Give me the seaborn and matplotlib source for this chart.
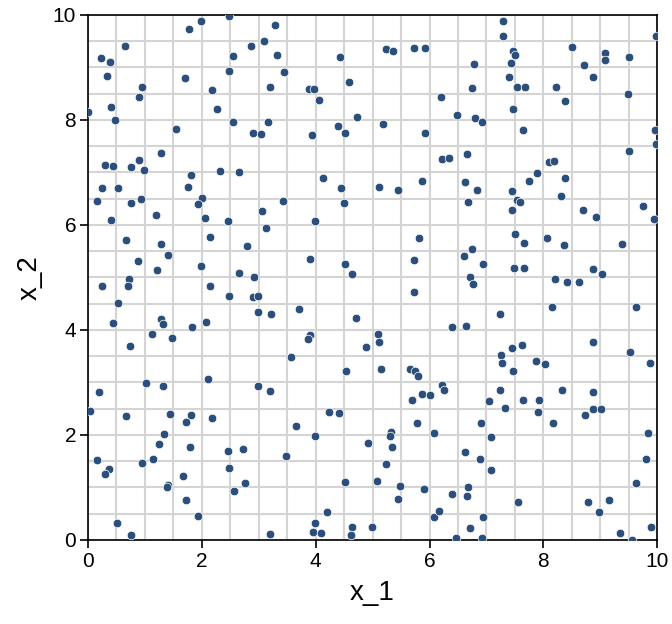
import numpy as np
import pandas as pd
import seaborn as sns
import matplotlib.pyplot as plt

# ── Data (300 points) ─────────────────────────────────────────────────────────
x1 = [0.00, 0.23, 0.38, 0.33, 0.65, 0.40, 0.48, 0.94, 0.90, 1.55, 1.77, 1.98, 2.47, 1.70, 2.18, 2.26,
      2.47, 2.55, 2.86, 3.09, 3.29, 3.32, 3.20, 2.54, 2.89, 3.04, 3.16, 1.29, 0.30, 0.43, 0.76, 0.89,
      0.99, 1.81, 2.32, 2.65, 0.25, 0.52, 1.75,
      3.45, 3.88, 3.97, 4.05, 4.43, 4.59, 4.73, 4.39, 4.51, 3.93, 5.19, 5.24, 5.36, 5.72, 5.92, 6.20,
      6.49, 5.92, 6.22, 6.34, 6.66, 6.62, 4.12, 4.44, 5.11, 5.44, 5.86,
      7.29, 7.29, 7.46, 7.50, 6.78, 7.43, 7.39, 6.74, 7.53, 7.68, 7.47, 6.79, 6.93, 7.64, 8.22, 8.38,
      8.50, 8.71, 8.87, 9.08, 9.09, 9.50, 9.49, 9.97, 9.96, 9.97, 9.50, 8.09, 8.18, 7.89, 7.75, 8.38,
      6.84, 7.44,
      0.16, 0.41, 0.76, 0.93, 1.19, 2.01, 1.93, 2.05, 2.46, 3.06, 3.13, 0.66, 1.28, 1.40, 2.15, 2.80,
      0.87, 1.21, 1.99, 2.66, 2.91, 0.25, 0.72, 0.71, 2.15, 2.48, 2.89, 2.99, 0.53, 2.99, 3.22, 0.44,
      1.29, 1.31, 1.12, 1.48, 1.83, 2.07, 0.74,
      3.43, 4.50, 3.99, 5.81, 3.90, 4.51, 4.64, 5.72, 5.73, 3.71, 4.71, 3.90, 3.86, 5.09, 5.12, 4.88,
      6.39, 3.57,
      6.67, 7.53, 7.59, 7.44, 8.31, 8.70, 8.93, 9.75, 9.94, 7.50, 7.66, 8.06, 8.36, 9.39, 6.75, 6.61,
      6.94, 7.48, 7.66, 6.71, 6.76, 8.87, 9.03, 8.21, 8.42, 8.63, 8.16, 9.62, 7.23, 6.64, 8.87, 9.53,
      7.63, 7.44, 7.26, 7.28, 7.87, 8.02, 9.88,
      2.10, 1.01, 1.31, 0.20, 2.99, 3.19, 0.03, 0.66, 1.44, 1.81, 1.72, 2.17, 1.34, 1.25, 1.80, 2.46,
      2.73, 0.16, 0.37, 0.29, 0.95, 1.15, 2.48, 1.66, 1.40, 1.38, 2.76, 2.57, 1.72, 1.93, 0.51, 0.75,
      3.19,
      4.54, 5.15, 5.66, 5.75, 5.80, 6.22, 6.26, 5.87, 6.01, 5.69, 4.23, 4.41, 3.65, 3.99, 5.78, 6.08,
      4.91, 5.32, 5.30, 5.34, 3.47, 5.23, 4.51, 5.08, 5.48, 5.45, 5.90, 6.40, 4.19, 3.98, 3.96, 4.09,
      4.64, 4.62, 4.99, 6.07, 6.17, 6.47,
      7.46, 7.23, 7.04, 7.33, 7.64, 7.93, 7.91, 8.33, 8.87, 8.87, 9.02, 8.73, 8.17, 6.91, 7.08, 6.63,
      6.88, 7.08, 9.83, 9.80, 9.62, 6.67, 6.65, 7.56, 8.78, 9.16, 8.97, 6.94, 6.71, 6.92, 9.35, 9.56,
      9.89]

x2 = [8.15, 9.18, 9.10, 8.84, 9.40, 8.25, 7.99, 8.63, 8.44, 7.82, 9.74, 9.88, 9.99, 8.80, 8.57, 8.21,
      8.93, 9.22, 9.40, 9.50, 9.80, 9.23, 8.62, 7.96, 7.76, 7.73, 7.97, 7.37, 7.14, 7.13, 7.10, 7.23,
      7.04, 6.95, 7.03, 7.00, 6.70, 6.70, 6.73,
      8.91, 8.58, 8.58, 8.38, 9.19, 8.73, 8.06, 7.88, 7.76, 7.71, 7.93, 9.35, 9.31, 9.37, 9.37, 8.44,
      8.10, 7.75, 7.26, 7.28, 7.35, 6.81, 6.90, 6.70, 6.72, 6.67, 6.84,
      9.89, 9.59, 9.32, 9.24, 9.06, 9.08, 8.82, 8.61, 8.62, 8.62, 8.20, 8.04, 7.97, 7.80, 8.63, 8.37,
      9.39, 9.05, 8.81, 9.28, 9.14, 9.20, 8.49, 9.60, 7.80, 7.54, 7.41, 7.19, 7.22, 6.98, 6.84, 6.89,
      6.67, 6.65,
      6.46, 6.10, 6.41, 6.49, 6.18, 6.51, 6.39, 6.14, 6.08, 6.27, 5.94, 5.71, 5.64, 5.42, 5.77, 5.60,
      5.31, 5.14, 5.22, 5.09, 5.01, 4.84, 4.97, 4.83, 4.83, 4.64, 4.62, 4.65, 4.51, 4.34, 4.30, 4.13,
      4.21, 4.11, 3.93, 3.85, 4.06, 4.15, 3.70,
      6.46, 6.41, 6.07, 5.75, 5.35, 5.26, 5.07, 5.33, 4.73, 4.40, 4.23, 3.90, 3.82, 3.92, 3.76, 3.68,
      4.06, 3.49,
      6.44, 6.48, 6.43, 6.28, 6.55, 6.28, 6.15, 6.36, 6.11, 5.82, 5.66, 5.75, 5.61, 5.64, 5.54, 5.40,
      5.25, 5.18, 5.18, 5.00, 4.88, 5.16, 5.07, 4.97, 4.92, 4.92, 4.43, 4.44, 4.30, 4.08, 3.77, 3.58,
      3.71, 3.65, 3.52, 3.37, 3.40, 3.35, 3.37,
      3.07, 2.98, 2.93, 2.81, 2.93, 2.84, 2.46, 2.36, 2.39, 2.37, 2.25, 2.32, 2.01, 1.83, 1.77, 1.69,
      1.73, 1.52, 1.35, 1.25, 1.46, 1.54, 1.36, 1.22, 1.05, 1.00, 1.08, 0.92, 0.76, 0.45, 0.32, 0.09,
      0.11,
      3.21, 3.26, 3.26, 3.22, 3.13, 2.94, 2.86, 2.78, 2.76, 2.66, 2.44, 2.42, 2.16, 1.98, 2.23, 2.04,
      1.85, 2.05, 1.98, 1.77, 1.60, 1.45, 1.10, 1.12, 1.03, 0.78, 0.96, 0.88, 0.53, 0.31, 0.14, 0.13,
      0.25, 0.10, 0.25, 0.44, 0.55, 0.04,
      3.21, 2.85, 2.65, 2.51, 2.67, 2.67, 2.44, 2.86, 2.81, 2.50, 2.49, 2.38, 2.22, 2.23, 1.96, 1.67,
      1.54, 1.33, 2.04, 1.53, 1.09, 1.01, 0.83, 0.72, 0.72, 0.75, 0.52, 0.43, 0.23, 0.04, 0.13, 0.00,
      0.25]

df = pd.DataFrame({"x_1": x1, "x_2": x2})

# ── Plot ───────────────────────────────────────────────────────────────────────
sns.set_theme(style="white")
plt.rcParams['font.family'] = ['Liberation Sans', 'DejaVu Sans']

fig = plt.figure(figsize=(6.72, 6.24), dpi=100)
ax = fig.add_axes([0.131, 0.135, 0.847, 0.841])

sns.scatterplot(data=df, x="x_1", y="x_2", ax=ax,
                color="#2b4f7a", s=38, edgecolor="white", linewidth=0.5, zorder=3)

ax.set_xlim(0, 10)
ax.set_ylim(0, 10)
ax.set_xticks(np.arange(0, 11, 2))
ax.set_yticks(np.arange(0, 11, 2))
ax.set_xticks(np.arange(0, 10.5, 0.5), minor=True)
ax.set_yticks(np.arange(0, 10.5, 0.5), minor=True)
ax.grid(True, which="both", color="#d4d4d4", linewidth=1.5, zorder=0)
ax.set_axisbelow(True)

ax.tick_params(which="major", direction="out", length=5.5, width=1.2, color="black",
               labelsize=15, labelcolor="black", left=True, bottom=True, pad=3)
ax.tick_params(which="minor", length=0)

for side in ["left", "bottom", "top", "right"]:
    ax.spines[side].set_color("black")
    ax.spines[side].set_linewidth(1.2)

ax.set_xlabel("x_1", fontsize=20, color="black", labelpad=7)
ax.set_ylabel("x_2", fontsize=20, color="black", labelpad=7)

fig.savefig("out.png", dpi=100)
